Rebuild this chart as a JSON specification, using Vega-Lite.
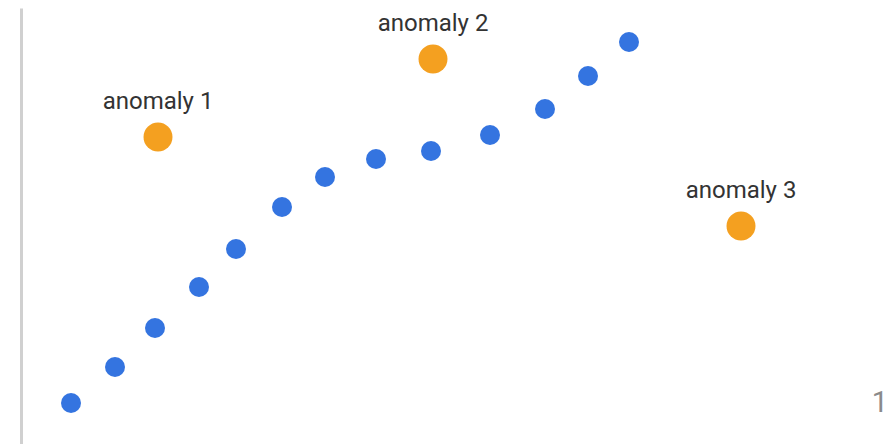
{
  "$schema": "https://vega.github.io/schema/vega-lite/v6.json",
  "width": 871,
  "height": 436,
  "autosize": "none",
  "padding": {"left": 21, "top": 8, "right": 0, "bottom": 0},
  "background": "white",
  "config": {"view": {"stroke": null}},
  "datasets": {
    "pts": [
      {"x": 71, "y": 403, "kind": "normal"},
      {"x": 115, "y": 367, "kind": "normal"},
      {"x": 155, "y": 328, "kind": "normal"},
      {"x": 199, "y": 287, "kind": "normal"},
      {"x": 236, "y": 249, "kind": "normal"},
      {"x": 282, "y": 207, "kind": "normal"},
      {"x": 325, "y": 177, "kind": "normal"},
      {"x": 376, "y": 159, "kind": "normal"},
      {"x": 431, "y": 151, "kind": "normal"},
      {"x": 490, "y": 135, "kind": "normal"},
      {"x": 545, "y": 109, "kind": "normal"},
      {"x": 588, "y": 76, "kind": "normal"},
      {"x": 629, "y": 42, "kind": "normal"},
      {"x": 158, "y": 137, "kind": "anomaly", "label": "anomaly 1"},
      {"x": 433, "y": 59, "kind": "anomaly", "label": "anomaly 2"},
      {"x": 741, "y": 226, "kind": "anomaly", "label": "anomaly 3"}
    ],
    "page": [{"x": 880, "y": 403, "label": "1"}]
  },
  "layer": [
    {
      "data": {"name": "pts"},
      "mark": {"type": "point", "filled": true, "opacity": 1},
      "encoding": {
        "x": {"field": "x", "type": "quantitative", "scale": {"domain": [21, 892], "nice": false, "zero": false}, "axis": null},
        "y": {"field": "y", "type": "quantitative", "scale": {"domain": [8, 444], "reverse": true, "nice": false, "zero": false},
              "axis": {"domainColor": "#d0d0d0", "domainWidth": 3, "ticks": false, "labels": false, "grid": false, "title": null}},
        "color": {"field": "kind", "type": "nominal", "scale": {"domain": ["normal", "anomaly"], "range": ["#3474e0", "#f4a020"]}, "legend": null},
        "size": {"field": "kind", "type": "nominal", "scale": {"domain": ["normal", "anomaly"], "range": [400, 840]}, "legend": null}
      }
    },
    {
      "data": {"name": "pts"},
      "transform": [{"filter": "datum.kind === 'anomaly'"}],
      "mark": {"type": "text", "dy": -35, "baseline": "middle", "align": "center", "font": "Roboto", "fontSize": 24, "color": "#333333"},
      "encoding": {
        "x": {"field": "x", "type": "quantitative"},
        "y": {"field": "y", "type": "quantitative"},
        "text": {"field": "label"}
      }
    },
    {
      "data": {"name": "page"},
      "mark": {"type": "text", "baseline": "middle", "align": "center", "font": "Roboto", "fontSize": 29, "color": "#8a8a8a"},
      "encoding": {
        "x": {"field": "x", "type": "quantitative"},
        "y": {"field": "y", "type": "quantitative"},
        "text": {"field": "label"}
      }
    }
  ]
}
